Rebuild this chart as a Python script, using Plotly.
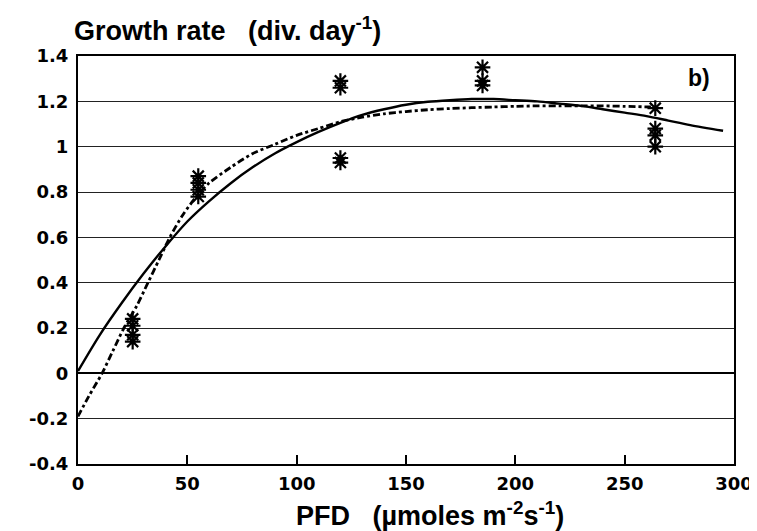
import plotly.graph_objects as go

# Observed growth rates (asterisks)
obs_pfd = [25, 25, 25, 25, 55, 55, 55, 55, 120, 120, 120, 120, 185, 185, 185, 264, 264, 264, 264]
obs_rate = [0.24, 0.21, 0.17, 0.14, 0.87, 0.84, 0.81, 0.78, 1.29, 1.26, 0.95, 0.93,
            1.35, 1.29, 1.27, 1.17, 1.08, 1.05, 1.00]

# Solid fitted curve
solid_pfd = [0, 10, 20, 30, 40, 50, 60, 70, 80, 90, 100, 110, 120, 130, 140, 150, 160,
             170, 180, 190, 200, 210, 220, 230, 240, 250, 260, 270, 280, 295]
solid_rate = [0.01, 0.17, 0.31, 0.44, 0.56, 0.67, 0.76, 0.84, 0.91, 0.97, 1.02, 1.065,
              1.105, 1.14, 1.165, 1.185, 1.198, 1.205, 1.21, 1.21, 1.205, 1.20, 1.19, 1.18,
              1.165, 1.15, 1.135, 1.115, 1.095, 1.07]

# Dashed fitted curve
dash_pfd = [0, 5, 11, 16, 21, 27, 32, 37, 42, 48, 55, 60, 70, 80, 90, 100, 110, 120, 130,
            140, 150, 160, 170, 180, 190, 200, 210, 220, 230, 240, 250, 262]
dash_rate = [-0.19, -0.10, 0.0, 0.10, 0.20, 0.30, 0.40, 0.50, 0.60, 0.70, 0.79, 0.84, 0.91,
             0.97, 1.01, 1.05, 1.08, 1.11, 1.13, 1.145, 1.155, 1.163, 1.168, 1.172, 1.175,
             1.178, 1.18, 1.18, 1.18, 1.18, 1.178, 1.175]

x_ticks = [0, 50, 100, 150, 200, 250, 300]
y_ticks = [-0.4, -0.2, 0, 0.2, 0.4, 0.6, 0.8, 1, 1.2, 1.4]
y_tick_labels = ["-0.4", "-0.2", "0", "0.2", "0.4", "0.6", "0.8", "1", "1.2", "1.4"]

FONT = "Liberation Sans, Arial, sans-serif"
TICKFONT = "DejaVu Sans, sans-serif"

fig = go.Figure()
fig.add_trace(go.Scatter(x=solid_pfd, y=solid_rate, mode="lines",
                         line=dict(color="black", width=2.4, shape="spline", smoothing=0.8),
                         showlegend=False))
fig.add_trace(go.Scatter(x=dash_pfd, y=dash_rate, mode="lines",
                         line=dict(color="black", width=2.8, shape="spline", smoothing=0.8,
                                   dash="7px,3px,3px,3px"),
                         showlegend=False))
fig.add_trace(go.Scatter(x=obs_pfd, y=obs_rate, mode="markers",
                         marker=dict(symbol="asterisk-open", size=13, color="black",
                                     line=dict(color="black", width=2.2)),
                         showlegend=False))

fig.update_layout(
    width=757, height=531,
    margin=dict(l=70, r=28, t=48, b=75),
    paper_bgcolor="white", plot_bgcolor="white",
    font=dict(family=FONT, color="black"),
    xaxis=dict(range=[0, 300], tickvals=x_ticks, ticks="inside", ticklen=9,
               tickwidth=1.8, tickcolor="black", showgrid=False, zeroline=False,
               showline=True, linecolor="black", linewidth=2.2, mirror=True,
               ticklabelstandoff=2,
               tickfont=dict(size=18, family=TICKFONT, weight="bold")),
    yaxis=dict(range=[-0.4, 1.4], tickvals=y_ticks, ticktext=y_tick_labels,
               ticks="", showgrid=True, gridcolor="#222", gridwidth=1.2,
               zeroline=True, zerolinecolor="black", zerolinewidth=2.2,
               showline=True, linecolor="black", linewidth=2.2, mirror=True,
               ticklabelstandoff=4,
               tickfont=dict(size=18, family=TICKFONT, weight="bold")),
    annotations=[
        dict(text="Growth rate&nbsp;&nbsp;&nbsp;(div. day<sup>-1</sup>)", xref="paper",
             yref="paper", x=0, y=1, xanchor="left", yanchor="bottom", xshift=-6, yshift=8,
             showarrow=False, font=dict(size=27, family=FONT, weight="bold")),
        dict(text="PFD&nbsp;&nbsp;&nbsp;(µmoles m<sup>-2</sup>s<sup>-1</sup>)", xref="paper",
             yref="paper", x=0.5, y=0, xanchor="center", yanchor="top", xshift=24,
             yshift=-31, showarrow=False, font=dict(size=27, family=FONT, weight="bold")),
        dict(text="b)", xref="paper", yref="paper", x=0.966, y=0.946,
             xanchor="right", yanchor="middle", showarrow=False,
             font=dict(size=23, family=FONT, weight="bold")),
    ],
)

fig.write_html("out.html")
